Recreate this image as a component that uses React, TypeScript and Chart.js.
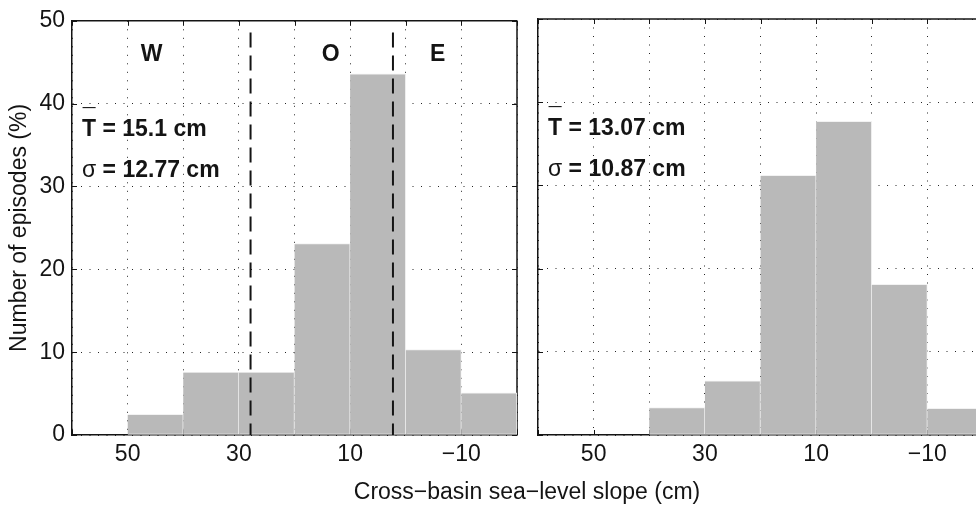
import React, { useEffect, useRef } from 'react';
import { Chart, registerables } from 'chart.js';

Chart.register(...registerables);

// ---------- data ----------
const binCentres = [45, 35, 25, 15, 5, -5, -15];
const leftShares = [2.5, 7.6, 7.6, 23.1, 43.6, 10.3, 5.1];
const rightShares = [0, 3.3, 6.5, 31.2, 37.7, 18.1, 3.2];
const xGridValues = [60, 50, 40, 30, 20, 10, 0, -10, -20];
const xLabelValues = [50, 30, 10, -10];
const yGridValues = [0, 10, 20, 30, 40, 50];
const leftDividers = [27.9, 2.3];
const dividerTop = 48.6;
const regionNames = ['W', 'O', 'E'];
const regionX = [45.7, 13.5, -5.75];
const regionY = 45.9;
const leftMean = '15.1';
const leftSigma = '12.77';
const rightMean = '13.07';
const rightSigma = '10.87';
const statX = 58.2;
const meanY = 36.8;
const sigmaY = 31.9;
const yTitle = 'Number of episodes (%)';
const xTitle = 'Cross\u2212basin sea\u2212level slope (cm)';

// ---------- style ----------
const FONT = "'Liberation Sans', Arial, Helvetica, sans-serif";
const FS = 23;
const INK = '#141414';
const GRID = 'rgba(0,0,0,0.85)';
const BAR_FILL = '#b9b9b9';
const BAR_EDGE = '#f2f2f2';

const fmt = (v: number) => (v < 0 ? '\u2212' + Math.abs(v) : String(v));

type PanelOpts = {
  shares: number[];
  xMin: number;
  yWidth: number;
  padRight: number;
  showYLabels: boolean;
  drawRight: boolean;
  dividers: number[];
  regions: boolean;
  mean: string;
  sigma: string;
  showXTitle: boolean;
};

function makeChart(canvas: HTMLCanvasElement, o: PanelOpts) {
  const framePlugin = {
    id: 'frame',
    beforeDatasetsDraw(chart: any) {
      const { ctx, chartArea: a, scales } = chart;
      const x = scales.x;
      const y = scales.y;
      ctx.save();
      ctx.strokeStyle = INK;
      ctx.lineWidth = 1.5;
      ctx.beginPath();
      ctx.moveTo(a.left, a.top);
      ctx.lineTo(a.right, a.top);
      if (o.drawRight) {
        ctx.moveTo(a.right, a.top);
        ctx.lineTo(a.right, a.bottom);
      }
      ctx.stroke();
      const t = 5;
      ctx.lineWidth = 1;
      ctx.beginPath();
      x.ticks.forEach((tk: any) => {
        const px = Math.round(x.getPixelForValue(tk.value)) + 0.5;
        ctx.moveTo(px, a.top);
        ctx.lineTo(px, a.top + t);
        ctx.moveTo(px, a.bottom);
        ctx.lineTo(px, a.bottom - t);
      });
      y.ticks.forEach((tk: any) => {
        const py = Math.round(y.getPixelForValue(tk.value)) + 0.5;
        ctx.moveTo(a.left, py);
        ctx.lineTo(a.left + t, py);
        if (o.drawRight) {
          ctx.moveTo(a.right, py);
          ctx.lineTo(a.right - t, py);
        }
      });
      ctx.stroke();
      ctx.restore();
    },
  };

  const textPlugin = {
    id: 'annot',
    afterDatasetsDraw(chart: any) {
      const { ctx, scales } = chart;
      const x = scales.x;
      const y = scales.y;
      ctx.save();
      ctx.fillStyle = INK;
      ctx.textBaseline = 'middle';
      const bold = `bold ${FS}px ${FONT}`;
      const normal = `${FS}px ${FONT}`;
      if (o.regions) {
        ctx.font = bold;
        ctx.textAlign = 'center';
        regionNames.forEach((r, i) => {
          ctx.fillText(r, x.getPixelForValue(regionX[i]), y.getPixelForValue(regionY));
        });
      }
      ctx.textAlign = 'left';
      const sx = x.getPixelForValue(statX);
      const my = y.getPixelForValue(meanY);
      ctx.font = bold;
      ctx.fillText('T', sx, my);
      const tw = ctx.measureText('T').width;
      ctx.fillText(` = ${o.mean} cm`, sx + tw, my);
      // overbar of the mean symbol
      ctx.textAlign = 'center';
      ctx.textBaseline = 'alphabetic';
      ctx.font = normal;
      ctx.fillText('\u00AF', sx + tw / 2, my - 5);
      ctx.textAlign = 'left';
      ctx.textBaseline = 'middle';
      const sy = y.getPixelForValue(sigmaY);
      ctx.font = normal;
      ctx.fillText('\u03c3', sx, sy);
      const w = ctx.measureText('\u03c3').width;
      ctx.font = bold;
      ctx.fillText(` = ${o.sigma} cm`, sx + w, sy);
      ctx.restore();
    },
    afterDraw(chart: any) {
      if (!o.showXTitle) return;
      const { ctx } = chart;
      ctx.save();
      ctx.fillStyle = INK;
      ctx.font = `${FS}px ${FONT}`;
      ctx.textAlign = 'center';
      ctx.textBaseline = 'middle';
      ctx.fillText(xTitle, 527, 493);
      ctx.restore();
    },
  };

  const datasets: any[] = [
    {
      type: 'bar',
      data: binCentres.map((c, i) => ({ x: c, y: o.shares[i] })),
      backgroundColor: BAR_FILL,
      borderColor: BAR_EDGE,
      borderWidth: 1,
      borderSkipped: 'left',
      barPercentage: 1,
      categoryPercentage: 1,
      order: 1,
    },
    ...o.dividers.map((v) => ({
      type: 'line',
      data: [
        { x: v, y: dividerTop },
        { x: v, y: 0 },
      ],
      borderColor: INK,
      borderWidth: 2,
      borderDash: [15, 8],
      pointRadius: 0,
      fill: false,
      order: 0,
    })),
  ];

  return new Chart(canvas, {
    type: 'bar',
    data: { datasets },
    plugins: [framePlugin, textPlugin],
    options: {
      animation: false,
      responsive: false,
      devicePixelRatio: 1,
      layout: { padding: { left: 0, top: 19, right: o.padRight, bottom: 0 } },
      plugins: { legend: { display: false }, tooltip: { enabled: false } },
      scales: {
        x: {
          type: 'linear',
          reverse: true,
          min: o.xMin,
          max: 60,
          offset: false,
          afterBuildTicks: (s: any) => {
            s.ticks = xGridValues.filter((v) => v >= o.xMin && v <= 60).map((v) => ({ value: v }));
          },
          afterFit: (s: any) => {
            s.height = 71;
          },
          grid: { color: GRID, lineWidth: 1, drawTicks: false, offset: false },
          border: { display: true, color: INK, width: 1.5, dash: [1, 7.5] },
          ticks: {
            autoSkip: false,
            maxRotation: 0,
            padding: 6,
            color: INK,
            font: { size: FS, family: FONT },
            callback: (v: any) => (xLabelValues.includes(Number(v)) ? fmt(Number(v)) : ''),
          },
        },
        y: {
          type: 'linear',
          min: 0,
          max: 50,
          afterBuildTicks: (s: any) => {
            s.ticks = yGridValues.map((v) => ({ value: v }));
          },
          afterFit: (s: any) => {
            s.width = o.yWidth;
          },
          grid: { color: GRID, lineWidth: 1, drawTicks: false },
          border: { display: true, color: INK, width: 1.5, dash: [1, 7.5] },
          ticks: {
            display: o.showYLabels,
            padding: 7,
            color: INK,
            font: { size: FS, family: FONT },
            callback: (v: any) => String(v),
          },
          title: {
            display: o.showYLabels,
            text: yTitle,
            color: INK,
            font: { size: FS, family: FONT },
            padding: { top: 6, bottom: 0 },
          },
        },
      },
    } as any,
  });
}

export default function App() {
  const leftRef = useRef<HTMLCanvasElement>(null);
  const rightRef = useRef<HTMLCanvasElement>(null);

  useEffect(() => {
    const c1 = makeChart(leftRef.current!, {
      shares: leftShares,
      xMin: -20,
      yWidth: 72,
      padRight: 976 - 517,
      showYLabels: true,
      drawRight: true,
      dividers: leftDividers,
      regions: true,
      mean: leftMean,
      sigma: leftSigma,
      showXTitle: true,
    });
    const c2 = makeChart(rightRef.current!, {
      shares: rightShares,
      xMin: 60 - 438 / 5.5625,
      yWidth: 18,
      padRight: 0,
      showYLabels: false,
      drawRight: false,
      dividers: [],
      regions: false,
      mean: rightMean,
      sigma: rightSigma,
      showXTitle: false,
    });
    return () => {
      c1.destroy();
      c2.destroy();
    };
  }, []);

  return (
    <div
      style={{
        position: 'fixed',
        left: 0,
        top: 0,
        width: 976,
        height: 506,
        background: '#fff',
        overflow: 'hidden',
      }}
    >
      <canvas
        ref={leftRef}
        width={976}
        height={506}
        style={{ position: 'absolute', left: 0, top: 0, width: 976, height: 506 }}
      />
      <canvas
        ref={rightRef}
        width={456}
        height={506}
        style={{ position: 'absolute', left: 520, top: 0, width: 456, height: 506 }}
      />
    </div>
  );
}
